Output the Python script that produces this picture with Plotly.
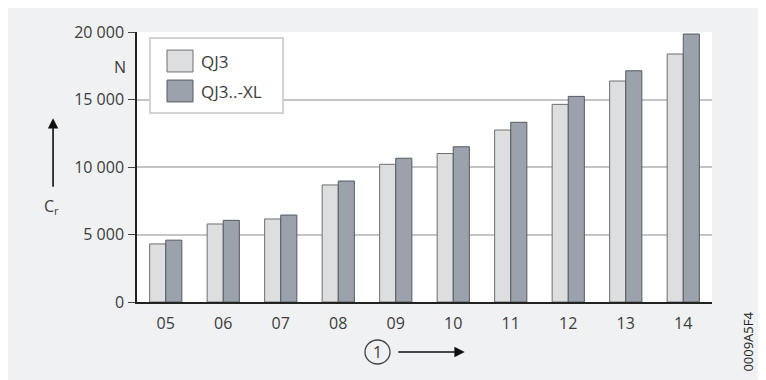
import plotly.graph_objects as go

categories = ["05", "06", "07", "08", "09", "10", "11", "12", "13", "14"]
series_names = ["QJ3", "QJ3..-XL"]
qj3 = [4300, 5780, 6150, 8670, 10200, 11000, 12740, 14640, 16370, 18370]
qj3_xl = [4580, 6050, 6440, 8960, 10650, 11500, 13310, 15230, 17130, 19850]
y_ticks = [0, 5000, 10000, 15000, 20000]
y_ticklabels = ["0", "5 000", "10 000", "15 000", "20 000"]

FONT = "Open Sans"
TXT = "#3c3c3c"
FILLS = ["#dcdedf", "#9ba2ab"]
EDGES = ["#6e6e6e", "#555a60"]

fig = go.Figure()
for name, vals, fc, ec in zip(series_names, [qj3, qj3_xl], FILLS, EDGES):
    fig.add_trace(go.Bar(
        x=categories, y=vals, name=name, showlegend=False,
        marker=dict(color=fc, line=dict(color=ec, width=1)),
    ))

fig.update_layout(
    width=766, height=380,
    margin=dict(l=129, r=62, t=24, b=86),
    paper_bgcolor="#f0f1f3",
    plot_bgcolor="#ffffff",
    barmode="group",
    bargap=0.44,
    bargroupgap=0.0,
    font=dict(family=FONT, size=15, color=TXT),
    xaxis=dict(
        type="category",
        range=[-0.5, 9.5],
        showline=True, linecolor="#222222", linewidth=2,
        ticks="", showgrid=False,
        tickfont=dict(family=FONT, size=16, color=TXT),
        ticklabelstandoff=6,
    ),
    yaxis=dict(
        range=[0, 20000],
        tickvals=y_ticks, ticktext=y_ticklabels,
        showline=True, linecolor="#222222", linewidth=1.5,
        ticks="outside", ticklen=7, tickcolor="#444444", tickwidth=1,
        showgrid=True, gridcolor="#c4c4c4", gridwidth=1.5,
        zeroline=False,
        tickfont=dict(family=FONT, size=16, color=TXT),
        ticklabelstandoff=1,
    ),
)

# Custom legend box (large swatches as in reference)
fig.add_shape(type="rect", xref="paper", yref="paper",
              x0=0.0226, x1=0.254, y0=0.700, y1=0.978,
              fillcolor="#ffffff", line=dict(color="#d2d2d2", width=2), layer="above")
sw_y = [(0.852, 0.933), (0.741, 0.822)]
txt_y = [0.889, 0.778]
for name, fc, ec, (y0, y1), ty in zip(series_names, FILLS, EDGES, sw_y, txt_y):
    fig.add_shape(type="rect", xref="paper", yref="paper",
                  x0=0.0522, x1=0.0974, y0=y0, y1=y1,
                  fillcolor=fc, line=dict(color=ec, width=1), layer="above")
    fig.add_annotation(text=name, xref="paper", yref="paper", x=0.108, y=ty,
                       xanchor="left", yanchor="middle", showarrow=False,
                       font=dict(family=FONT, size=17, color=TXT))

# Unit label "N"
fig.add_annotation(text="N", xref="paper", yref="paper", x=-0.015, y=0.870,
                   xanchor="right", yanchor="middle", showarrow=False,
                   font=dict(family=FONT, size=16, color=TXT))
# C_r with upward arrow
fig.add_annotation(text="C<sub>r</sub>", xref="paper", yref="paper",
                   x=-0.148, y=0.355, xanchor="center", yanchor="middle",
                   showarrow=False, font=dict(family=FONT, size=16, color=TXT))
fig.add_annotation(x=-0.146, y=0.681, ax=0, ay=70,
                   xref="paper", yref="paper", axref="pixel", ayref="pixel",
                   text="", showarrow=True, arrowhead=2, arrowsize=1.3,
                   arrowwidth=1.6, arrowcolor="#111111")
# Circled 1 with right arrow
fig.add_annotation(text="1", xref="paper", yref="paper", x=0.418, y=-0.185,
                   xanchor="center", yanchor="middle", showarrow=False,
                   font=dict(family=FONT, size=16, color=TXT))
fig.add_shape(type="circle", xref="paper", yref="paper",
              x0=0.3965, x1=0.440, y0=-0.2296, y1=-0.1407,
              line=dict(color="#444444", width=1.3))
fig.add_annotation(x=0.570, y=-0.185, ax=-68, ay=0,
                   xref="paper", yref="paper", axref="pixel", ayref="pixel",
                   text="", showarrow=True, arrowhead=2, arrowsize=1.3,
                   arrowwidth=1.6, arrowcolor="#111111")
# Figure id
fig.add_annotation(text="0009A5F4", xref="paper", yref="paper", x=1.062, y=-0.148,
                   xanchor="center", yanchor="middle", textangle=-90,
                   showarrow=False, font=dict(family=FONT, size=13, color="#222222"))

fig.write_html("out.html")
